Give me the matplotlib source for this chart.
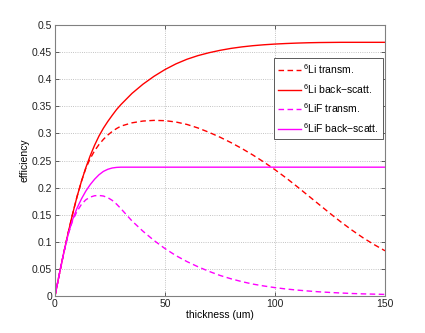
import matplotlib
matplotlib.use('Agg')
import matplotlib.pyplot as plt

# thickness in um
thickness = [0, 2, 4, 6, 8, 10, 12, 14, 16, 18, 20, 22, 24, 26, 28, 30,
             35, 40, 45, 50, 55, 60, 65, 70, 75, 80, 85, 90, 95, 100,
             105, 110, 115, 120, 125, 130, 135, 140, 145, 150]

# 6Li transmission
li_transm = [0, 0.041, 0.080, 0.117, 0.1514, 0.183, 0.2112, 0.2355, 0.2535, 0.2680,
             0.2795, 0.2890, 0.2970, 0.3035, 0.3090, 0.3135,
             0.3195, 0.3228, 0.3240, 0.3235, 0.3210, 0.3165, 0.3100, 0.3020, 0.2930,
             0.2830, 0.2720, 0.2600, 0.2470, 0.2330,
             0.2180, 0.2020, 0.1855, 0.1690, 0.1525, 0.1365, 0.1215, 0.1075, 0.0950, 0.0835]

# 6Li back-scattering
li_back = [0, 0.041, 0.080, 0.117, 0.1514, 0.183, 0.2114, 0.2366, 0.2588, 0.2782,
           0.2952, 0.3096, 0.3220, 0.3333, 0.3441, 0.3533,
           0.3738, 0.3908, 0.4053, 0.4178, 0.4283, 0.4368, 0.4435, 0.4488, 0.4532,
           0.4568, 0.4596, 0.4618, 0.4635, 0.4648,
           0.4658, 0.4666, 0.4672, 0.4676, 0.4678, 0.468, 0.468, 0.468, 0.468, 0.468]

# 6LiF transmission
lif_transm = [0, 0.041, 0.080, 0.114, 0.139, 0.156, 0.169, 0.1775, 0.1825, 0.185,
              0.1855, 0.1845, 0.1815, 0.1765, 0.1695, 0.161,
              0.1385, 0.1195, 0.1025, 0.0875, 0.0745, 0.0635, 0.054, 0.0455, 0.038,
              0.0318, 0.0265, 0.022, 0.0185, 0.0155,
              0.013, 0.011, 0.0093, 0.0078, 0.0066, 0.0056, 0.0047, 0.004, 0.0035, 0.003]

# 6LiF back-scattering
lif_back = [0, 0.041, 0.080, 0.114, 0.141, 0.162, 0.179, 0.1935, 0.2055, 0.2155,
            0.2237, 0.2299, 0.2338, 0.2362, 0.2373, 0.2377,
            0.2377, 0.2377, 0.2377, 0.2377, 0.2377, 0.2377, 0.2377, 0.2377, 0.2377,
            0.2377, 0.2377, 0.2377, 0.2377, 0.2377,
            0.2377, 0.2377, 0.2377, 0.2377, 0.2377, 0.2377, 0.2377, 0.2377, 0.2377, 0.2377]

xticks = [0, 50, 100, 150]
yticks = [0, 0.05, 0.1, 0.15, 0.2, 0.25, 0.3, 0.35, 0.4, 0.45, 0.5]
ytick_labels = ['0', '0.05', '0.1', '0.15', '0.2', '0.25', '0.3', '0.35', '0.4', '0.45', '0.5']

plt.rcParams['font.family'] = ['Liberation Sans', 'DejaVu Sans']
plt.rcParams['mathtext.default'] = 'regular'
plt.rcParams['font.size'] = 7.5

fig = plt.figure(figsize=(4.25, 3.33), dpi=100)
ax = fig.add_axes([0.1294, 0.111, 0.7765, 0.814])

dash = (4, 2.5)
ax.plot(thickness, li_transm, color='#ff0000', lw=1.0, dashes=dash, label='$^{6}$Li transm.')
ax.plot(thickness, li_back, color='#ff0000', lw=1.0, label='$^{6}$Li back\u2212scatt.')
ax.plot(thickness, lif_transm, color='#ff00ff', lw=1.0, dashes=dash, label='$^{6}$LiF transm.')
ax.plot(thickness, lif_back, color='#ff00ff', lw=1.0, label='$^{6}$LiF back\u2212scatt.')

ax.set_xlim(0, 150)
ax.set_ylim(0, 0.5)
ax.set_xticks(xticks)
ax.set_yticks(yticks)
ax.set_yticklabels(ytick_labels)
ax.grid(True, linestyle=':', color='#b0b0b0', lw=0.6)
ax.tick_params(direction='in', top=True, right=True, length=3, width=0.5, colors='#222222', pad=2)
for s in ax.spines.values():
    s.set_color('#808080')
    s.set_linewidth(0.8)

ax.set_xlabel('thickness (um)', labelpad=1)
ax.set_ylabel('efficiency', labelpad=2)

leg = ax.legend(loc='upper right', bbox_to_anchor=(0.994, 0.878), borderaxespad=0,
                fancybox=False, framealpha=1, edgecolor='#404040', handlelength=2.2,
                handletextpad=0.2, labelspacing=0.55, borderpad=0.4, fontsize=7.5)
leg.get_frame().set_linewidth(0.6)

fig.savefig('out.png', dpi=100)
